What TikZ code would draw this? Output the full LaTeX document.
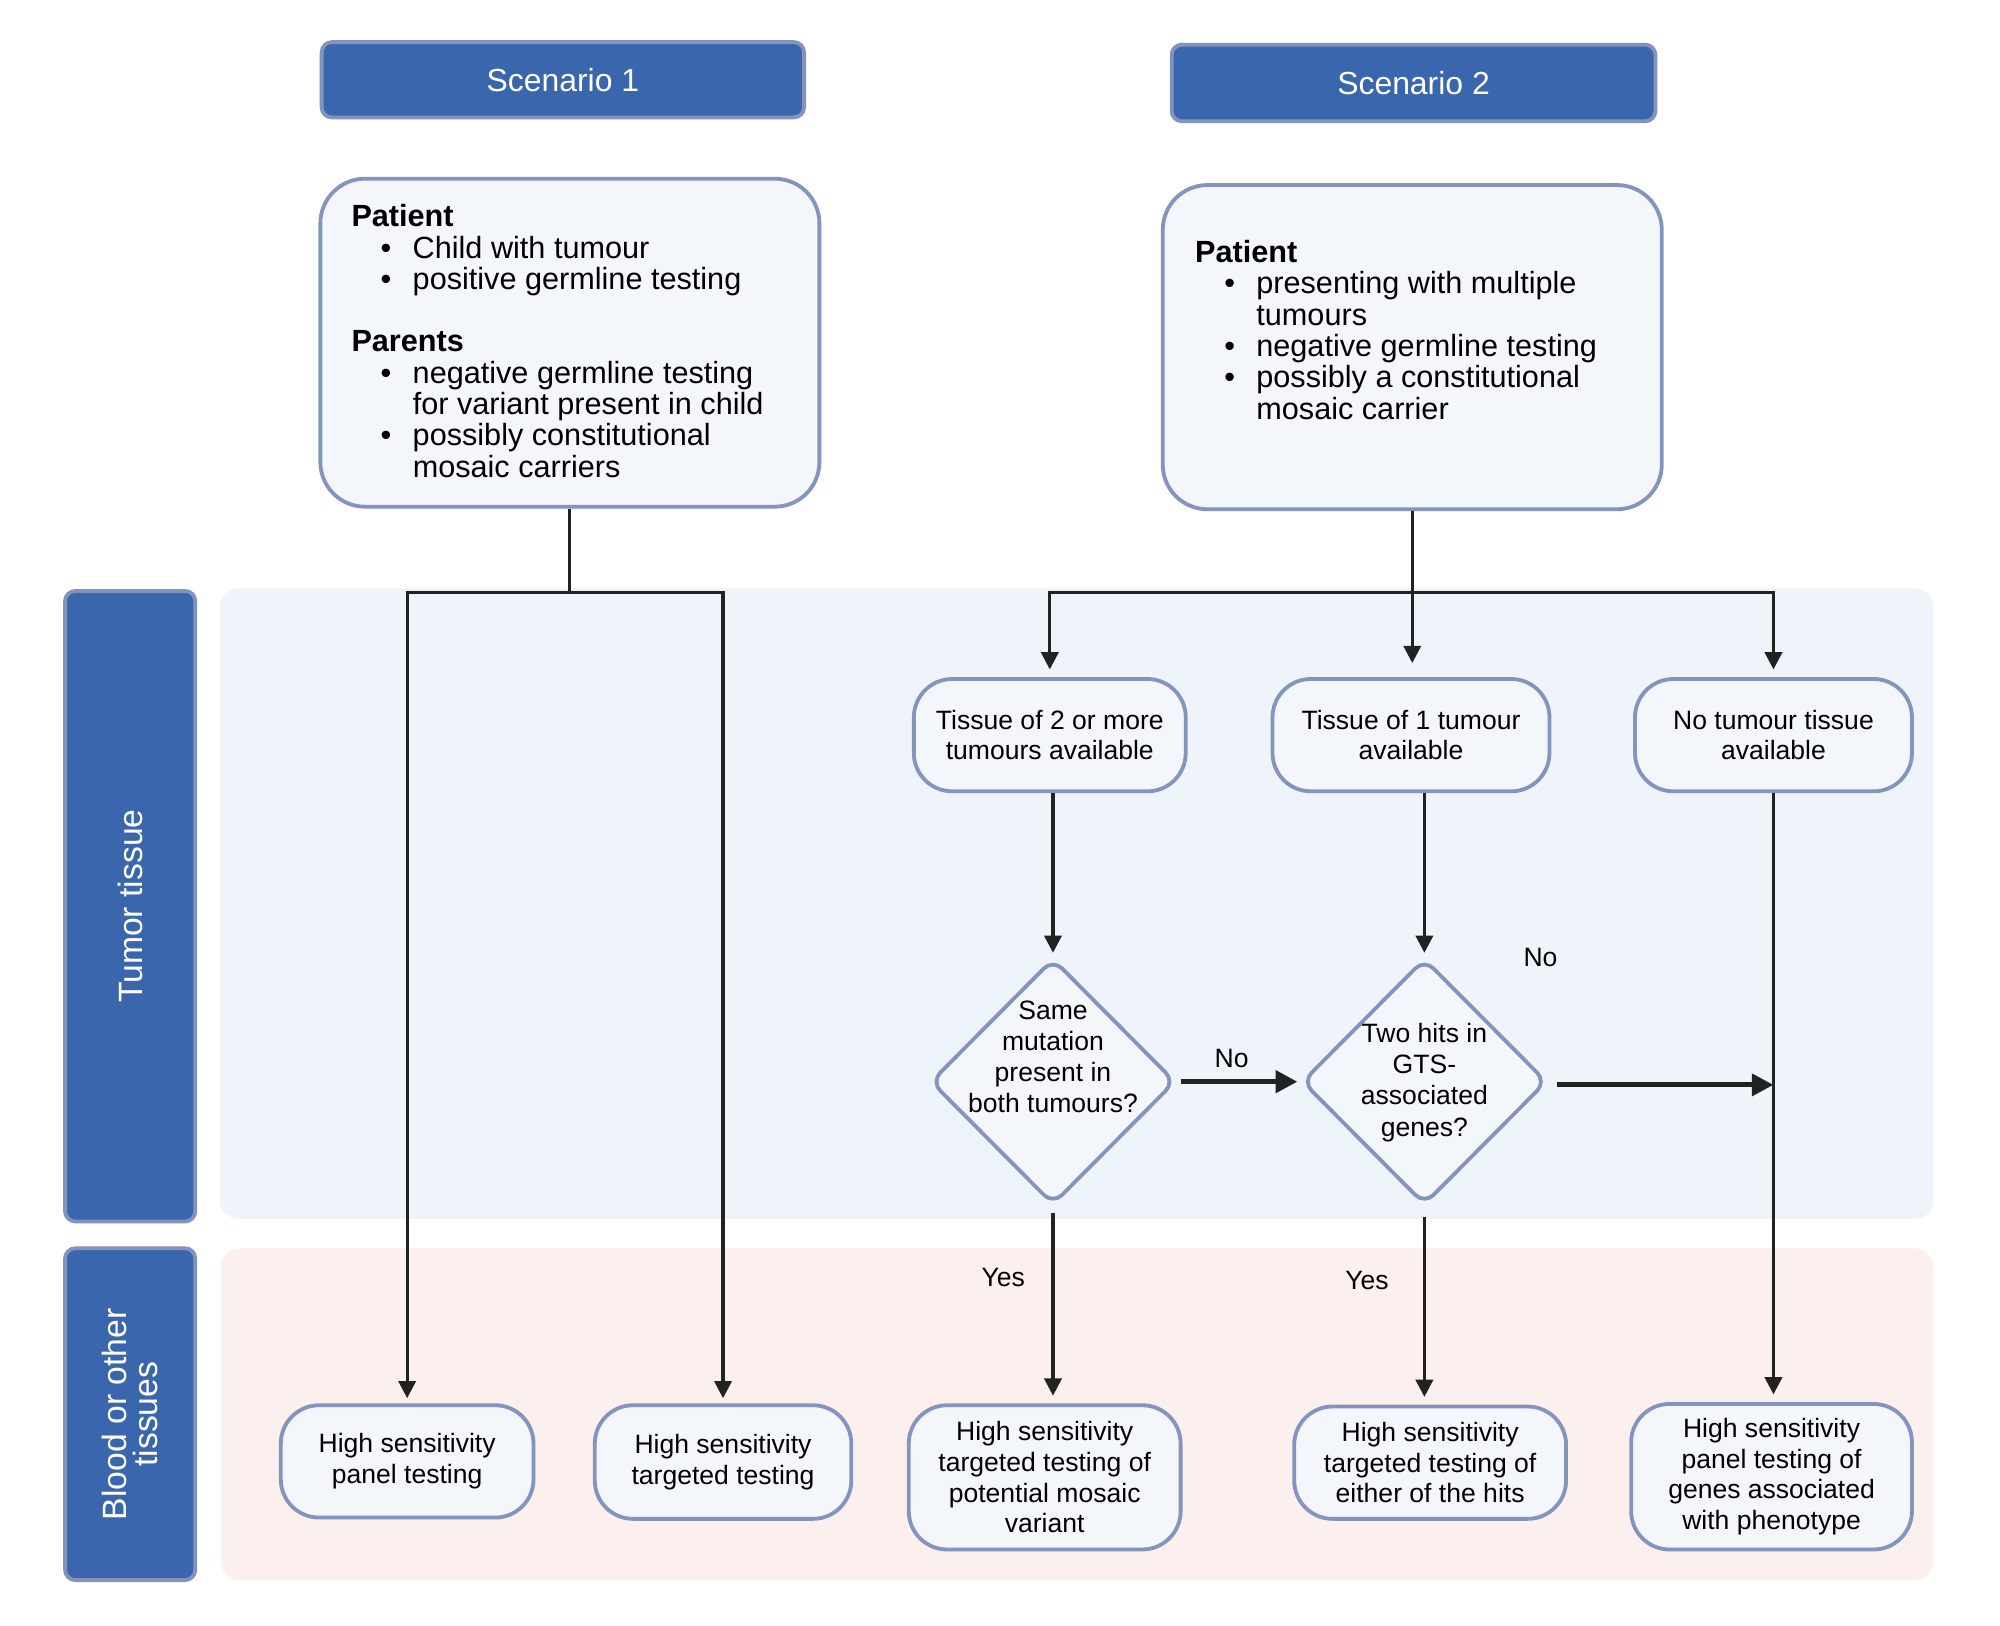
\documentclass[tikz,border=0pt]{standalone}
\usepackage{fontspec}
\setmainfont{Liberation Sans}
\usetikzlibrary{shapes.geometric,arrows.meta}
\definecolor{hdrblue}{HTML}{3A66AE}
\definecolor{hdrbord}{HTML}{8493BB}
\definecolor{boxfill}{HTML}{F3F6FB}
\definecolor{boxbord}{HTML}{8494BE}
\definecolor{lanetum}{HTML}{EFF4FB}
\definecolor{laneblood}{HTML}{FCF0EF}
\definecolor{ink}{HTML}{222222}
\newcommand{\pbul}{\makebox[24pt][l]{\hspace{11.4pt}\textbullet}}
\newcommand{\pcont}{\hspace*{24pt}}
\begin{document}
\begin{tikzpicture}[x=0.5pt,y=-0.5pt,
  hdr/.style={draw=hdrbord, fill=hdrblue, line width=1.5pt, rounded corners=4pt,
    text=white, font=\fontsize{12.5}{15}\selectfont, inner sep=0pt},
  lanelab/.style={draw=hdrbord, fill=hdrblue, line width=1.5pt, rounded corners=4pt,
    text=white, font=\fontsize{13.2}{12}\selectfont, inner sep=0pt, rotate=90, align=center},
  pbox/.style={draw=boxbord, fill=boxfill, line width=1.5pt, rounded corners=17.5pt, inner sep=0pt},
  ptext/.style={align=left, inner sep=0pt, font=\fontsize{12}{12.25}\selectfont},
  rbox/.style={draw=boxbord, fill=boxfill, line width=1.5pt, rounded corners=15pt,
    inner sep=0pt, align=center, font=\fontsize{10.4}{12}\selectfont},
  dia/.style={diamond, draw=boxbord, fill=boxfill, line width=1.5pt, rounded corners=5pt,
    inner sep=0pt, minimum width=96pt, minimum height=96.5pt},
  dtext/.style={align=center, inner sep=0pt, font=\fontsize{10.4}{12.25}\selectfont},
  lbl/.style={inner sep=0pt, font=\fontsize{10.4}{12}\selectfont},
  conn/.style={draw=ink, line width=1.25pt},
  arr/.style={conn, -{Triangle[length=6.75pt,width=6.75pt]}},
  thickarr/.style={draw=ink, line width=2pt, -{Triangle[length=8.5pt,width=8.5pt]}}
]
\useasboundingbox (0,0) rectangle (1567,1273.2);
\fill[white] (0,0) rectangle (1567,1273.2);

% lanes
\fill[lanetum, rounded corners=7.5pt] (172,461) rectangle (1515,955);
\fill[laneblood, rounded corners=7.5pt] (173,978) rectangle (1515,1238);
\node[lanelab, minimum width=247pt, minimum height=51pt] (L1) at (102,710) {Tumor tissue};
\node[lanelab, minimum width=130pt, minimum height=51pt] (L2) at (102,1108) {Blood or other\\tissues};

% headers
\node[hdr, minimum width=189pt, minimum height=29.5pt] (h1) at (441,62.5) {Scenario 1};
\node[hdr, minimum width=189.5pt, minimum height=30pt] (h2) at (1107.5,65) {Scenario 2};

% patient boxes
\node[pbox, minimum width=195.5pt, minimum height=128.5pt] (p1) at (446.5,268.5) {};
\node[pbox, minimum width=195.5pt, minimum height=127pt] (p2) at (1106.5,272) {};
\node[ptext, anchor=north west] (pt1) at (275,160) {\textbf{Patient}\\
\pbul Child with tumour\\
\pbul positive germline testing\\[12.25pt]
\textbf{Parents}\\
\pbul negative germline testing\\
\pcont for variant present in child\\
\pbul possibly constitutional\\
\pcont mosaic carriers};
\node[ptext, anchor=north west] (pt2) at (936,188) {\textbf{Patient}\\
\pbul presenting with multiple\\
\pcont tumours\\
\pbul negative germline testing\\
\pbul possibly a constitutional\\
\pcont mosaic carrier};

% top row
\node[rbox, minimum width=106.5pt, minimum height=44pt] (t1) at (822.5,576) {Tissue of 2 or more\\tumours available};
\node[rbox, minimum width=108.5pt, minimum height=44pt] (t2) at (1105.5,576) {Tissue of 1 tumour\\available};
\node[rbox, minimum width=108.5pt, minimum height=44pt] (t3) at (1389.5,576) {No tumour tissue\\available};

% diamonds
\node[dia] (d1) at (825,847.5) {};
\node[dtext] (d1t) at (825,828) {Same\\mutation\\present in\\both tumours?};
\node[dia] (d2) at (1116,847.5) {};
\node[dtext] (d2t) at (1116,848) {Two hits in\\GTS-\\associated\\genes?};

% bottom row
\node[rbox, minimum width=99pt, minimum height=44pt] (b1) at (319,1145) {High sensitivity\\panel testing};
\node[rbox, minimum width=100.5pt, minimum height=44.5pt] (b2) at (566.5,1145.5) {High sensitivity\\targeted testing};
\node[rbox, minimum width=106.5pt, minimum height=56.5pt] (b3) at (818.5,1157.5) {High sensitivity\\targeted testing of\\potential mosaic\\variant};
\node[rbox, minimum width=106.5pt, minimum height=44pt] (b4) at (1120.5,1146) {High sensitivity\\targeted testing of\\either of the hits};
\node[rbox, minimum width=110pt, minimum height=57pt] (b5) at (1388,1157) {High sensitivity\\panel testing of\\genes associated\\with phenotype};

% labels
\node[lbl] (no1) at (965,829) {No};
\node[lbl] (no2) at (1207,750) {No};
\node[lbl] (yes1) at (786,1001) {Yes};
\node[lbl] (yes2) at (1071,1003) {Yes};

% scenario 1 connectors
\coordinate (j1) at (p1.south |- 0,464);
\draw[conn] (p1.south) -- (j1);
\draw[arr, shorten >=2pt] (j1) -| (b1.north);
\draw[arr, shorten >=2pt] (j1) -| (b2.north);

% scenario 2 connectors
\coordinate (j2) at (p2.south |- 0,464);
\draw[arr, shorten >=5.5pt] (p2.south) -- (p2.south |- t2.north);
\draw[arr, shorten >=3pt] (j2) -| (t1.north);
\draw[arr, shorten >=3pt] (j2) -| (t3.north);
\draw[arr, shorten >=1.5pt] (t1.south -| d1.north) -- (d1.north);
\draw[arr, shorten >=1.5pt] (d2.north |- t2.south) -- (d2.north);
\draw[thickarr, shorten <=1.5pt, shorten >=1pt] (d1.east) -- (d2.west);
\draw[thickarr, shorten <=3pt] (d2.east) ++(0,2.5) coordinate (d2e) (d2e) -- (d2e -| t3.south);
\draw[arr, shorten >=3pt] (t3.south) -- (t3.south |- b5.north);
\draw[arr, shorten <=2.5pt, shorten >=3pt] (d1.south) -- (d1.south |- b3.north);
\draw[arr, shorten <=4pt, shorten >=3pt] (d2.south) -- (d2.south |- b4.north);
\end{tikzpicture}
\end{document}
